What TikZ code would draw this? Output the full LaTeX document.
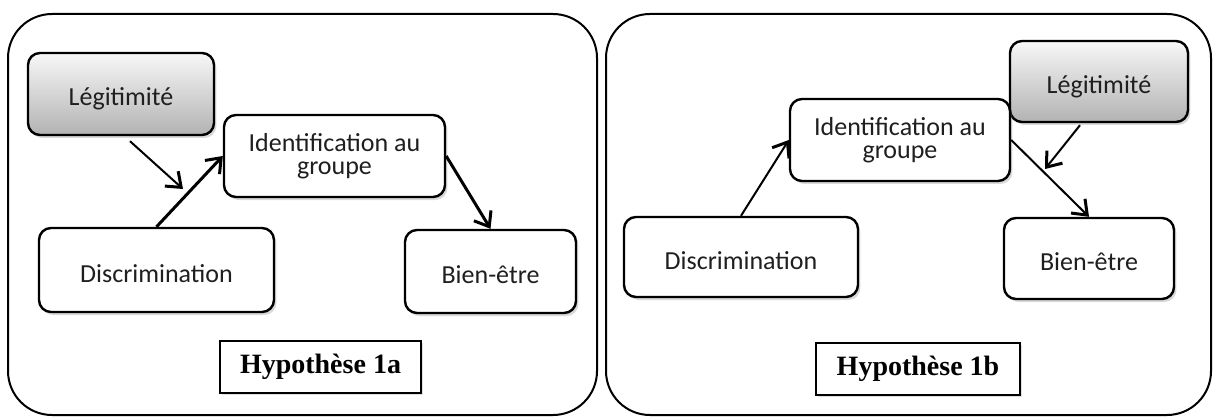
\documentclass[tikz,border=0pt]{standalone}
\usepackage{fontspec}
\setmainfont{Carlito}
\newfontfamily\hypfont{Liberation Serif}
\usetikzlibrary{arrows.meta,shadows,calc}
\begin{document}
\begin{tikzpicture}[x=0.5pt,y=-0.5pt,
  panel/.style={draw=black,line width=1pt,rounded corners=22pt},
  boxbase/.style={draw=black,line width=1.2pt,rounded corners=6pt,fill=white,
    font=\fontsize{13}{11.7}\selectfont,align=center,inner sep=0pt,text=black!88,
    drop shadow={shadow xshift=1.2pt,shadow yshift=-1.5pt,opacity=0.3,fill=gray}},
  box/.style={boxbase,text height=13pt,text depth=1pt},
  twoline/.style={boxbase},
  legbox/.style={box,top color=gray!6,bottom color=gray!60},
  hyp/.style={draw=black,line width=0.9pt,fill=white,inner sep=0pt,
    font=\hypfont\bfseries\fontsize{14}{15}\selectfont,
    drop shadow={shadow xshift=1pt,shadow yshift=-1pt,opacity=0.25,fill=gray}},
  thick arrow/.style={line width=1.5pt,-{Straight Barb[length=6.5pt,width=10pt]}},
  thin arrow/.style={line width=1pt,-{Straight Barb[length=6.5pt,width=10pt,line width=1.5pt]}}
]
\useasboundingbox (0,0) rectangle (1216,417);
% panels
\draw[panel] (8,14) rectangle (597,415);
\draw[panel] (606,14) rectangle (1211,415);
% left panel
\node[legbox,minimum width=93pt,minimum height=41pt] (legA) at (121,94) {Légitimité};
\node[twoline,minimum width=110.5pt,minimum height=41pt] (idA) at (334.5,156) {Identification au\\groupe};
\node[box,minimum width=117.5pt,minimum height=42pt] (disA) at (156.5,270) {Discrimination};
\node[box,minimum width=85.5pt,minimum height=41.5pt] (beA) at (490.5,271.5) {Bien-être};
\node[hyp,minimum width=100.5pt,minimum height=26pt] (hypA) at (320.5,367) {Hypothèse 1a};
\coordinate (tA) at (183,189);
\draw[thick arrow] (disA.north) -- (idA.west);
\draw[thick arrow] (idA.east) -- (beA.north);
\draw[thin arrow] ([shift={(9,5)}]legA.south) -- (tA);
% right panel
\node[legbox,minimum width=89pt,minimum height=40.5pt] (legB) at (1099,81.5) {Légitimité};
\node[twoline,minimum width=110pt,minimum height=41pt] (idB) at (900,140) {Identification au\\groupe};
\node[box,minimum width=117pt,minimum height=40pt] (disB) at (741,257) {Discrimination};
\node[box,minimum width=85pt,minimum height=40.5pt] (beB) at (1089,258.5) {Bien-être};
\node[hyp,minimum width=102pt,minimum height=26pt] (hypB) at (918,369) {Hypothèse 1b};
\coordinate (tB) at (1045,169);
\draw[thin arrow] (disB.north) -- (idB.west);
\draw[thin arrow] (idB.east) -- (beB.north);
\draw[thin arrow] ([shift={(-19,2)}]legB.south) -- (tB);
\end{tikzpicture}
\end{document}
